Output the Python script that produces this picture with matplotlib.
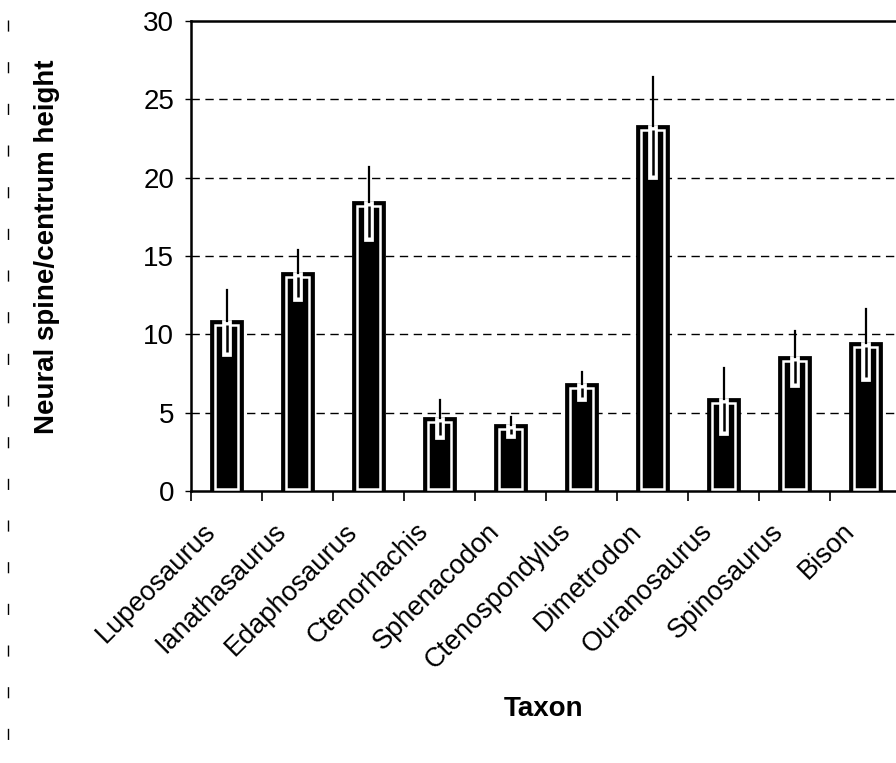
import matplotlib
matplotlib.use("Agg")
import matplotlib.pyplot as plt
import matplotlib.patheffects as pe
import matplotlib.transforms as mtransforms
from matplotlib.lines import Line2D
import numpy as np

taxa = ["Lupeosaurus", "Ianathasaurus", "Edaphosaurus", "Ctenorhachis", "Sphenacodon",
        "Ctenospondylus", "Dimetrodon", "Ouranosaurus", "Spinosaurus", "Bison"]
values = [10.85, 13.9, 18.45, 4.68, 4.2, 6.8, 23.3, 5.85, 8.55, 9.47]
errors = [1.95, 1.5, 2.25, 1.1, 0.55, 0.8, 3.15, 2.0, 1.65, 2.17]
yticks = [0, 5, 10, 15, 20, 25, 30]

plt.rcParams['font.family'] = ['Liberation Sans', 'DejaVu Sans']

fig = plt.figure(figsize=(8.96, 7.63), dpi=100)
ax = fig.add_axes([191/896, 1-491/763, 710/896, 470/763])

x = np.arange(len(taxa))
bw = 0.43
ax.set_xlim(-0.5, len(taxa) - 0.5)
ax.set_ylim(0, 30)

for yv in yticks[1:-1]:
    ax.axhline(yv, color='black', lw=1.0, ls=(0, (6, 4)), zorder=1)

ax.bar(x, values, width=bw, color='black', edgecolor='black', lw=2, zorder=2)
# inner white outline
inset_x = 4/71
inset_y = 4/15.67
for xi, v in zip(x, values):
    ax.add_patch(plt.Rectangle((xi - bw/2 + inset_x, inset_y*0.6), bw - 2*inset_x, v - inset_y*1.6,
                               fill=False, edgecolor='white', lw=1.8, zorder=3))
# lower error (white halo) and upper error
for xi, v, e in zip(x, values, errors):
    ax.plot([xi, xi], [v - inset_y, v - e], color='black', lw=1.8, solid_capstyle='butt', zorder=4,
            path_effects=[pe.Stroke(linewidth=7, foreground='white', capstyle='projecting'), pe.Normal()])
    ax.plot([xi, xi], [v, v + e], color='black', lw=1.6, zorder=4)

ax.set_yticks(yticks)
ax.set_yticklabels([str(t) for t in yticks], fontsize=20)
ax.tick_params(axis='y', direction='out', length=4, width=1, pad=8)

ax.set_xticks(x)
ax.set_xticklabels(taxa, fontsize=19.5, rotation=45, ha='right', va='top', rotation_mode='anchor')
ax.tick_params(axis='x', which='major', length=0, pad=14)
offset = mtransforms.ScaledTranslation(-24/100, -8/100, fig.dpi_scale_trans)
for lbl in ax.get_xticklabels():
    lbl.set_transform(lbl.get_transform() + offset)
ax.set_xticks(np.arange(-0.5, len(taxa) + 0.5, 1), minor=True)
ax.tick_params(axis='x', which='minor', direction='out', length=7, width=1.2)

for s in ['left', 'bottom', 'top']:
    ax.spines[s].set_linewidth(1.8)
ax.spines['right'].set_visible(False)

fig.text(47/896, 1-247/763, "Neural spine/centrum height", fontsize=20, fontweight='bold',
         rotation=90, ha='center', va='center')
fig.text(544/896, 1-709/763, "Taxon", fontsize=20, fontweight='bold', ha='center', va='center')

# scan artifact at the left edge
fig.add_artist(Line2D([8/896, 8/896], [1-20/763, 1-755/763], transform=fig.transFigure,
                      color='black', lw=1.0, ls=(0, (8, 22))))

fig.savefig("out.png", dpi=100)
